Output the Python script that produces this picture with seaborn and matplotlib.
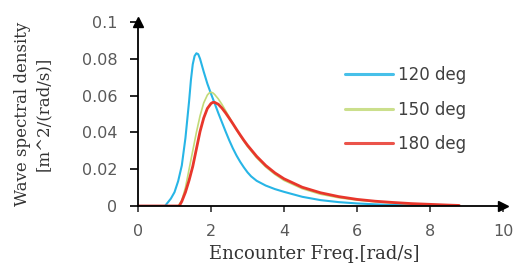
import numpy as np
import pandas as pd
import matplotlib
matplotlib.use("Agg")
import matplotlib.pyplot as plt
from matplotlib.lines import Line2D
import seaborn as sns

# ---- data ----
freq_120 = [0.0, 0.74, 0.8, 0.9, 1.0, 1.1, 1.2, 1.3, 1.4, 1.45, 1.5, 1.55, 1.6, 1.65, 1.7, 1.75,
            1.8, 1.9, 2.0, 2.1, 2.2, 2.3, 2.4, 2.5, 2.6, 2.7, 2.8, 2.9, 3.0, 3.1, 3.25, 3.5,
            3.75, 4.0, 4.5, 5.0, 5.5, 6.0, 6.5, 7.0, 8.0]
spec_120 = [0.0, 0.0, 0.0015, 0.004, 0.0075, 0.0135, 0.022, 0.037, 0.057, 0.0685, 0.077, 0.0815,
            0.083, 0.0825, 0.080, 0.0765, 0.073, 0.0665, 0.061, 0.0558, 0.0505, 0.0455, 0.0405,
            0.0357, 0.0313, 0.0274, 0.0240, 0.0210, 0.0183, 0.0161, 0.0137, 0.0111, 0.0092,
            0.0077, 0.0050, 0.0032, 0.0021, 0.0014, 0.0009, 0.0006, 0.0002]

freq_150 = [0.0, 1.1, 1.2, 1.3, 1.4, 1.5, 1.6, 1.7, 1.8, 1.9, 1.95, 2.0, 2.05, 2.1, 2.2, 2.3, 2.4,
            2.5, 2.6, 2.7, 2.8, 2.9, 3.0, 3.25, 3.5, 3.75, 4.0, 4.5, 5.0, 5.5, 6.0, 6.5, 7.0,
            7.5, 8.0, 8.5]
spec_150 = [0.0, 0.0, 0.003, 0.010, 0.020, 0.030, 0.040, 0.049, 0.056, 0.0603, 0.0614, 0.0618, 0.0615,
            0.0606, 0.0582, 0.0552, 0.0518, 0.0483, 0.0448, 0.0414, 0.0382, 0.0352, 0.0323, 0.0262,
            0.0212, 0.0172, 0.0139, 0.0094, 0.0064, 0.0045, 0.0032, 0.0023, 0.0016, 0.0011,
            0.0007, 0.0004]

freq_180 = [0.0, 1.13, 1.2, 1.3, 1.4, 1.5, 1.6, 1.7, 1.8, 1.9, 2.0, 2.05, 2.1, 2.2, 2.3, 2.4, 2.5,
            2.6, 2.7, 2.8, 2.9, 3.0, 3.25, 3.5, 3.75, 4.0, 4.5, 5.0, 5.5, 6.0, 6.5, 7.0, 7.5,
            8.0, 8.5, 8.8]
spec_180 = [0.0, 0.0, 0.0025, 0.0075, 0.0140, 0.0215, 0.0310, 0.0405, 0.0478, 0.0530, 0.0557, 0.0563,
            0.0563, 0.0553, 0.0532, 0.0506, 0.0477, 0.0447, 0.0416, 0.0386, 0.0357, 0.0330, 0.0270,
            0.0220, 0.0180, 0.0148, 0.0102, 0.0072, 0.0051, 0.0036, 0.0026, 0.0019, 0.0013,
            0.0009, 0.0005, 0.0003]

series_labels = ["120 deg", "150 deg", "180 deg"]
x_ticks = [0, 2, 4, 6, 8, 10]
y_ticks = [0, 0.02, 0.04, 0.06, 0.08, 0.1]
y_tick_labels = ["0", "0.02", "0.04", "0.06", "0.08", "0.1"]

df = pd.concat([
    pd.DataFrame({"freq": freq_120, "S": spec_120, "heading": series_labels[0]}),
    pd.DataFrame({"freq": freq_150, "S": spec_150, "heading": series_labels[1]}),
    pd.DataFrame({"freq": freq_180, "S": spec_180, "heading": series_labels[2]}),
])

sns.set_style("white")
plt.rcParams["font.family"] = ["DejaVu Sans"]

fig = plt.figure(figsize=(5.18, 2.71), dpi=100)
ax = fig.add_axes([138 / 518, 65 / 271, 365 / 518, 184 / 271])

palette = {"120 deg": "#27b5e6", "150 deg": "#c2da78", "180 deg": "#e8362b"}
sizes = {"120 deg": 1.5, "150 deg": 1.2, "180 deg": 2.0}
sns.lineplot(data=df, x="freq", y="S", hue="heading", size="heading", sizes=sizes,
             palette=palette, ax=ax, sort=False, estimator=None, legend=False)

ax.set_xlim(0, 10)
ax.set_ylim(0, 0.1)
ax.set_xticks(x_ticks)
ax.set_xticklabels([str(t) for t in x_ticks])
ax.set_yticks(y_ticks)
ax.set_yticklabels(y_tick_labels)

for s in ["top", "right"]:
    ax.spines[s].set_visible(False)
for s in ["left", "bottom"]:
    ax.spines[s].set_color("black")
    ax.spines[s].set_linewidth(1.3)

ax.tick_params(axis="y", direction="out", length=6, width=1.2, color="black",
               labelsize=11.5, labelcolor="#595959", pad=9, left=True)
ax.tick_params(axis="x", direction="out", length=4, width=1.2, color="#333333",
               labelsize=11.5, labelcolor="#595959", pad=9, bottom=True)

# arrow heads at the axis ends
ax.plot(1, 0, ">", color="black", markersize=7, transform=ax.transAxes, clip_on=False)
ax.plot(0, 1, "^", color="black", markersize=7, transform=ax.transAxes, clip_on=False)

ax.set_xlabel("Encounter Freq.[rad/s]", family="DejaVu Serif", fontsize=13, color="#333333")
ax.xaxis.set_label_coords((314 - 138) / 365, -(245 - 206) / 184)
ax.set_ylabel("Wave spectral density\n[m^2/(rad/s)]", family="DejaVu Serif", fontsize=12,
              color="#333333", linespacing=1.3)
ax.yaxis.set_label_coords(-(138 - 52) / 365, 0.5)

# legend
handles = [Line2D([], [], color=palette[l], lw=2.2, alpha=0.85) for l in series_labels]
leg = ax.legend(handles, series_labels, loc="upper left",
                bbox_to_anchor=(345 / 518, 1 - 66 / 271), bbox_transform=fig.transFigure,
                frameon=False, fontsize=12, handlelength=2.9, handletextpad=0.3,
                labelspacing=1.0, borderpad=0, borderaxespad=0, labelcolor="#404040")

fig.savefig("out.png", dpi=100)
